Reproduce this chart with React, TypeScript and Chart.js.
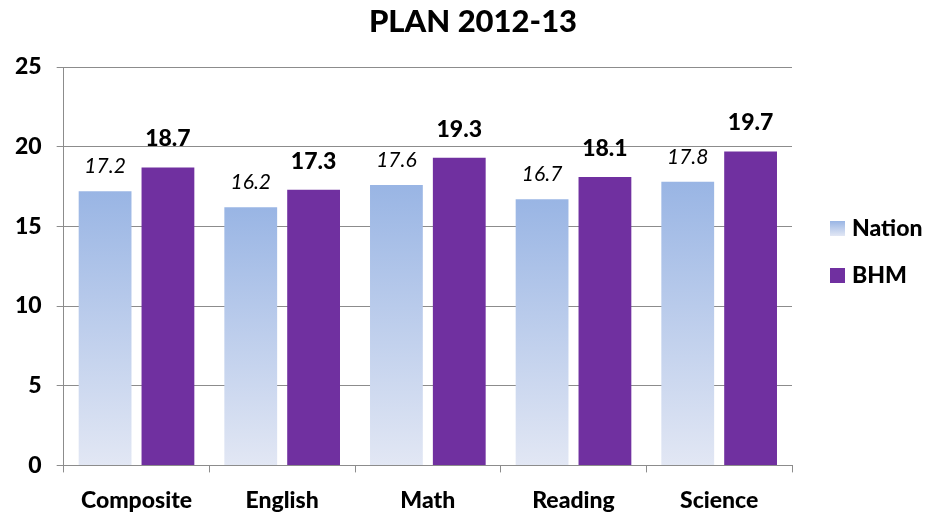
import React, { useEffect, useRef } from "react";
import { Chart, registerables } from "chart.js";

Chart.register(...registerables);

const categories = ["Composite", "English", "Math", "Reading", "Science"];
const nationValues = [17.2, 16.2, 17.6, 16.7, 17.8];
const bhmValues = [18.7, 17.3, 19.3, 18.1, 19.7];
const seriesNames = ["Nation", "BHM"];
const titleText = "PLAN 2012-13";
const FONT = "Lato, 'Open Sans', sans-serif";
const W = "900";
const GRID = "#8c8c8c";

function nationGradient(ctx: CanvasRenderingContext2D, top: number, bottom: number) {
  const g = ctx.createLinearGradient(0, top, 0, bottom);
  g.addColorStop(0, "#99b5e4");
  g.addColorStop(1, "#e2e7f4");
  return g;
}

const customPlugin = {
  id: "custom",
  afterDatasetsDraw(chart: any) {
    const ctx: CanvasRenderingContext2D = chart.ctx;
    ctx.save();
    chart.data.datasets.forEach((ds: any, di: number) => {
      const meta = chart.getDatasetMeta(di);
      meta.data.forEach((bar: any, i: number) => {
        const v = ds.data[i];
        ctx.fillStyle = "#000";
        ctx.textAlign = "center";
        ctx.textBaseline = "alphabetic";
        if (di === 0) {
          ctx.font = `italic 21px ${FONT}`;
          ctx.fillText(v.toFixed(1), bar.x, bar.y - 18);
        } else {
          ctx.font = `${W} 23px ${FONT}`;
          ctx.fillText(v.toFixed(1), bar.x, bar.y - 21);
        }
      });
    });
    ctx.font = `${W} 31px ${FONT}`;
    ctx.textAlign = "center";
    ctx.textBaseline = "middle";
    ctx.fillStyle = "#000";
    ctx.fillText(titleText, 473, 22);
    const items = [
      { y: 228, fill: nationGradient(ctx, 221, 236) },
      { y: 275, fill: "#7030a0" },
    ];
    items.forEach((it, i) => {
      ctx.fillStyle = it.fill as any;
      ctx.fillRect(830, it.y - 7, 15, 15);
      ctx.fillStyle = "#000";
      ctx.font = `${W} 23px ${FONT}`;
      ctx.textAlign = "left";
      ctx.textBaseline = "middle";
      ctx.fillText(seriesNames[i], 852, it.y + 1);
    });
    ctx.restore();
  },
};

export default function App() {
  const ref = useRef<HTMLCanvasElement>(null);
  useEffect(() => {
    const chart = new Chart(ref.current!, {
      type: "bar",
      data: {
        labels: categories,
        datasets: [
          {
            label: seriesNames[0],
            data: nationValues,
            backgroundColor: (c: any) => {
              const area = c.chart.chartArea;
              const ys = c.chart.scales.y;
              if (!area || !ys || c.raw == null) return "#b0c4ea";
              return nationGradient(c.chart.ctx, ys.getPixelForValue(c.raw), area.bottom);
            },
            barPercentage: 0.84,
            categoryPercentage: 0.863,
          },
          {
            label: seriesNames[1],
            data: bhmValues,
            backgroundColor: "#7030a0",
            barPercentage: 0.84,
            categoryPercentage: 0.863,
          },
        ],
      },
      options: {
        animation: false,
        responsive: true,
        maintainAspectRatio: false,
        layout: { padding: { top: 67, right: 138, bottom: -13, left: 0 } },
        plugins: { legend: { display: false }, title: { display: false }, tooltip: { enabled: false } },
        scales: {
          x: {
            grid: { drawOnChartArea: false, color: GRID, tickLength: 7, offset: true },
            border: { color: GRID },
            ticks: { color: "#000", font: { family: FONT, size: 23, weight: W }, padding: 14 },
          },
          y: {
            min: 0,
            max: 25,
            grid: { color: GRID, tickLength: 7 },
            border: { color: GRID },
            ticks: { stepSize: 5, color: "#000", font: { family: FONT, size: 23, weight: W }, padding: 15 },
          },
        },
      },
      plugins: [customPlugin],
    } as any);
    return () => chart.destroy();
  }, []);
  return (
    <div style={{ position: "absolute", left: 0, top: 0, width: 930, height: 515, background: "#fff" }}>
      <canvas ref={ref} />
    </div>
  );
}
